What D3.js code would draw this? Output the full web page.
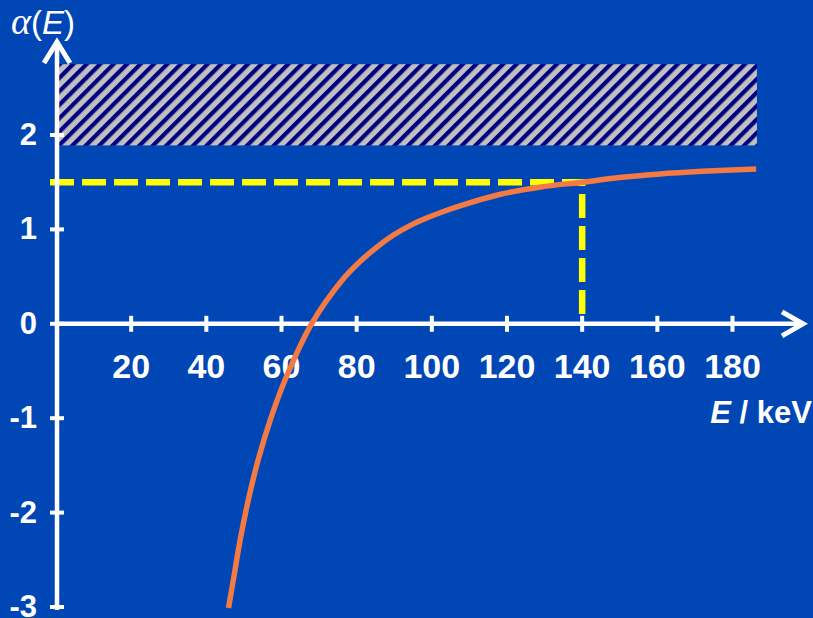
<!DOCTYPE html>
<html>
<head>
<meta charset="utf-8">
<script src="https://cdn.jsdelivr.net/npm/d3@7"></script>
<style>
  body { margin: 0; background: #0046b4; }
  svg { display: block; }
  text { font-family: "Liberation Sans", Arial, sans-serif; fill: white; }
</style>
</head>
<body>
<div id="chart"></div>
<script>
// values
const energy = [45.9, 47.2, 49.0, 51.2, 53.8, 57.0, 61.1, 68.0, 76.5, 80.9, 85.3, 89.8, 94.2, 98.6, 103.1, 107.5, 118, 129, 140, 150, 160, 172, 186.3]
const alpha  = [-3.01, -2.71, -2.29, -1.86, -1.44, -1.02, -0.58, 0.0, 0.48, 0.66, 0.81, 0.94, 1.04, 1.12, 1.19, 1.25, 1.37, 1.45, 1.5, 1.55, 1.585, 1.615, 1.64]

const xTicks = [20, 40, 60, 80, 100, 120, 140, 160, 180]
const yTicks = [2, 1, 0, -1, -2, -3]

const band = {lo: 1.89, hi: 2.75, eMax: 186.5}   // hatched region
const marker = {e: 140, a: 1.5}                   // yellow dashed guide

var width = 813
var height = 618

const x = d3.scaleLinear().domain([0, 180]).range([56, 732.5])
const y = d3.scaleLinear().domain([-3, 2]).range([607, 135])

const svg = d3.select("#chart").append("svg")
    .attr("width", width)
    .attr("height", height)

svg.append("rect")
    .attr("width", width)
    .attr("height", height)
    .attr("fill", "#0046b4")

// diagonal hatch
const pat = svg.append("defs").append("pattern")
    .attr("id", "hatch")
    .attr("patternUnits", "userSpaceOnUse")
    .attr("width", 9.5)
    .attr("height", 9.5)
    .attr("patternTransform", "rotate(45)")
pat.append("rect").attr("width", 9.5).attr("height", 9.5).attr("fill", "#c0c0c0")
pat.append("rect").attr("width", 4.2).attr("height", 9.5).attr("fill", "#000080")

svg.append("rect")
    .attr("x", x(0) + 3)
    .attr("y", y(band.hi))
    .attr("width", x(band.eMax) - x(0) - 3)
    .attr("height", y(band.lo) - y(band.hi))
    .attr("fill", "url(#hatch)")

// yellow guide lines
svg.append("path")
    .attr("d", `M${x(0) - 6},${y(marker.a)} H${x(marker.e)} V${y(0)}`)
    .attr("fill", "none")
    .attr("stroke", "#ffff00")
    .attr("stroke-width", 6.5)
    .attr("stroke-dasharray", "24,8")

// axes
const axisColor = "white"
const x0 = x(0) + 1
const y0 = y(0)

svg.append("line")
    .attr("x1", x0).attr("x2", x0)
    .attr("y1", 42).attr("y2", y(-3) + 3)
    .attr("stroke", axisColor).attr("stroke-width", 4.5)
svg.append("path")
    .attr("d", `M${x0 - 13},63 L${x0},42 L${x0 + 13},63`)
    .attr("fill", "none").attr("stroke", axisColor).attr("stroke-width", 5)

svg.append("line")
    .attr("x1", x0 - 2).attr("x2", 803)
    .attr("y1", y0).attr("y2", y0)
    .attr("stroke", axisColor).attr("stroke-width", 4.5)
svg.append("path")
    .attr("d", `M782,${y0 - 12} L803,${y0} L782,${y0 + 12}`)
    .attr("fill", "none").attr("stroke", axisColor).attr("stroke-width", 5)

svg.selectAll("line.xtick")
    .data(xTicks).enter().append("line")
    .attr("class", "xtick")
    .attr("x1", d => x(d)).attr("x2", d => x(d))
    .attr("y1", y0 - 8).attr("y2", y0 + 8)
    .attr("stroke", axisColor).attr("stroke-width", 4)

svg.selectAll("text.xlabel")
    .data(xTicks).enter().append("text")
    .attr("class", "xlabel")
    .attr("x", d => x(d))
    .attr("y", 378)
    .attr("text-anchor", "middle")
    .attr("font-size", 34)
    .attr("font-weight", "bold")
    .text(d => d)

svg.selectAll("line.ytick")
    .data(yTicks).enter().append("line")
    .attr("class", "ytick")
    .attr("x1", x0 - 7).attr("x2", x0 + 7)
    .attr("y1", d => y(d)).attr("y2", d => y(d))
    .attr("stroke", axisColor).attr("stroke-width", 4)

svg.selectAll("text.ylabel")
    .data(yTicks).enter().append("text")
    .attr("class", "ylabel")
    .attr("x", 37)
    .attr("y", d => y(d) + 10)
    .attr("text-anchor", "end")
    .attr("font-size", 31)
    .attr("font-weight", "bold")
    .text(d => d)

// axis titles
const xt = svg.append("text")
    .attr("x", 812).attr("y", 423)
    .attr("text-anchor", "end")
    .attr("font-size", 31)
    .attr("font-weight", "bold")
xt.append("tspan").attr("font-style", "italic").text("E")
xt.append("tspan").text(" / keV")

const yt = svg.append("text")
    .attr("x", 11).attr("y", 34)
    .attr("font-size", 33)
yt.append("tspan")
    .attr("font-family", "'Liberation Serif', serif")
    .attr("font-style", "italic")
    .attr("font-size", 38)
    .text("α")
yt.append("tspan").text("(")
yt.append("tspan").attr("font-style", "italic").text("E")
yt.append("tspan").text(")")

// curve
const line = d3.line()
    .x((d, i) => x(energy[i]))
    .y(d => y(d))
    .curve(d3.curveCatmullRom)

svg.append("path")
    .datum(alpha)
    .attr("d", line)
    .attr("fill", "none")
    .attr("stroke", "#f47a44")
    .attr("stroke-width", 5.5)
</script>
</body>
</html>
